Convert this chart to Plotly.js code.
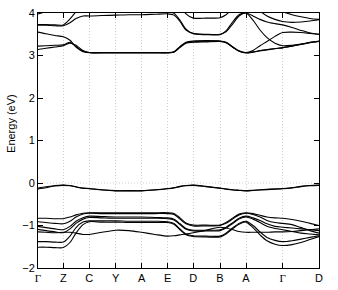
<!DOCTYPE html>
<html><head><meta charset="utf-8">
<script src="https://cdn.plot.ly/plotly-3.0.1.min.js"></script>
<style>html,body{margin:0;padding:0;background:#fff}#chart{width:338px;height:290px}</style>
</head><body><div id="chart"></div>
<script>
// k-path coordinate (high-symmetry points at kTicks)
const kPath = [0, 8, 17, 25.3, 32, 38, 45, 51.3, 64, 77.7, 91, 103.7, 117, 129.7, 136, 142, 148, 155.3, 168, 182, 188, 195, 201, 208, 215, 222, 229, 237, 244.7, 254, 263, 272, 281];
const kTicks = [0, 25.3, 51.3, 77.7, 103.7, 129.7, 155.3, 182, 208, 244.7, 281];
const kLabels = ['Γ', 'Z', 'C', 'Y', 'A', 'E', 'D', 'B', 'A', 'Γ', 'D'];
const yTicks = [-2, -1, 0, 1, 2, 3, 4];

// conduction bands (eV)
const cb1 = [3.14, 3.17, 3.20, 3.23, 3.29, 3.24, 3.12, 3.07, 3.06, 3.06, 3.06, 3.06, 3.06, 3.06, 3.08, 3.19, 3.29, 3.31, 3.32, 3.33, 3.30, 3.19, 3.10, 3.06, 3.08, 3.11, 3.13, 3.16, 3.18, 3.22, 3.26, 3.30, 3.33];
const cb2 = [3.22, 3.23, 3.24, 3.25, 3.31, 3.21, 3.10, 3.07, 3.07, 3.07, 3.07, 3.07, 3.07, 3.07, 3.09, 3.21, 3.31, 3.34, 3.35, 3.34, 3.31, 3.20, 3.11, 3.07, 3.12, 3.23, 3.33, 3.45, 3.54, 3.55, 3.54, 3.52, 3.50];
const cb3 = [3.55, 3.51, 3.47, 3.44, 3.36, 3.20, 3.09, 3.065, 3.065, 3.065, 3.065, 3.065, 3.065, 3.065, 3.085, 3.20, 3.30, 3.325, 3.335, 3.335, 3.305, 3.195, 3.105, 3.065, 3.085, 3.115, 3.14, 3.165, 3.185, 3.225, 3.265, 3.305, 3.335];
const cb4 = [3.71, 3.71, 3.70, 3.70, 3.77, 3.87, 3.93, 3.93, 3.94, 3.95, 3.96, 3.96, 3.97, 3.98, 3.95, 3.80, 3.60, 3.52, 3.50, 3.50, 3.56, 3.75, 3.93, 4.00, 3.83, 3.60, 3.42, 3.29, 3.23, 3.24, 3.27, 3.31, 3.34];
const cb5 = [3.73, 3.73, 3.72, 3.72, 3.86, 4.03, 4.20, 4.30, 4.30, 4.30, 4.30, 4.30, 4.20, 4.05, 3.99, 3.83, 3.62, 3.51, 3.49, 3.49, 3.58, 3.80, 3.96, 4.00, 3.93, 3.85, 3.79, 3.75, 3.72, 3.66, 3.59, 3.53, 3.50];
const cb6 = [3.98, 4.04, 4.20, 4.30, 4.40, 4.40, 4.40, 4.40, 4.40, 4.40, 4.40, 4.40, 4.40, 4.40, 4.35, 4.20, 3.98, 3.88, 3.88, 3.89, 3.96, 4.12, 4.30, 4.40, 4.25, 4.05, 3.93, 3.85, 3.80, 3.78, 3.79, 3.81, 3.84];
const cb7 = [4.50, 4.50, 4.50, 4.50, 4.50, 4.50, 4.50, 4.50, 4.50, 4.50, 4.50, 4.50, 4.50, 4.50, 4.50, 4.50, 4.50, 4.50, 4.50, 4.50, 4.50, 4.50, 4.50, 4.50, 4.45, 4.35, 4.22, 4.12, 4.03, 3.96, 3.91, 3.87, 3.85];

// valence bands (eV)
const vb1 = [-0.12, -0.09, -0.06, -0.05, -0.06, -0.09, -0.12, -0.13, -0.16, -0.18, -0.18, -0.18, -0.16, -0.13, -0.11, -0.08, -0.06, -0.05, -0.08, -0.12, -0.14, -0.16, -0.17, -0.18, -0.17, -0.16, -0.15, -0.14, -0.13, -0.11, -0.08, -0.06, -0.05];
const vb2 = [-0.14, -0.11, -0.07, -0.055, -0.065, -0.095, -0.125, -0.135, -0.165, -0.185, -0.185, -0.185, -0.165, -0.135, -0.115, -0.085, -0.065, -0.055, -0.085, -0.125, -0.145, -0.165, -0.175, -0.185, -0.175, -0.165, -0.155, -0.145, -0.135, -0.115, -0.085, -0.065, -0.055];
const vb3 = [-0.83, -0.83, -0.84, -0.84, -0.80, -0.75, -0.71, -0.70, -0.70, -0.70, -0.70, -0.70, -0.70, -0.70, -0.72, -0.82, -0.94, -0.99, -0.99, -0.99, -0.93, -0.82, -0.73, -0.70, -0.72, -0.76, -0.80, -0.82, -0.83, -0.86, -0.90, -0.95, -1.00];
const vb4 = [-0.91, -0.93, -0.95, -0.96, -0.90, -0.80, -0.73, -0.71, -0.72, -0.72, -0.72, -0.72, -0.72, -0.72, -0.74, -0.85, -0.96, -1.01, -1.01, -1.00, -0.95, -0.84, -0.75, -0.71, -0.74, -0.80, -0.88, -0.93, -0.95, -0.98, -1.05, -1.12, -1.18];
const vb5 = [-1.02, -1.05, -1.08, -1.10, -1.02, -0.90, -0.82, -0.78, -0.79, -0.80, -0.80, -0.80, -0.81, -0.82, -0.85, -0.96, -1.07, -1.11, -1.11, -1.10, -1.04, -0.93, -0.83, -0.78, -0.82, -0.88, -0.96, -1.02, -1.04, -1.06, -1.08, -1.10, -1.12];
const vb6 = [-1.09, -1.12, -1.15, -1.17, -1.08, -0.95, -0.85, -0.81, -0.82, -0.83, -0.83, -0.83, -0.83, -0.84, -0.87, -0.98, -1.09, -1.13, -1.13, -1.12, -1.06, -0.95, -0.85, -0.80, -0.85, -0.93, -1.02, -1.07, -1.10, -1.14, -1.18, -1.20, -1.22];
const vb7 = [-1.15, -1.16, -1.17, -1.16, -1.16, -1.18, -1.21, -1.21, -1.16, -1.11, -1.12, -1.16, -1.21, -1.25, -1.24, -1.22, -1.20, -1.17, -1.11, -1.04, -1.06, -1.10, -1.14, -1.16, -1.16, -1.16, -1.16, -1.15, -1.15, -1.14, -1.12, -1.10, -1.08];
const vb8 = [-1.38, -1.38, -1.39, -1.39, -1.25, -1.05, -0.92, -0.89, -0.89, -0.89, -0.90, -0.90, -0.90, -0.91, -0.95, -1.08, -1.20, -1.24, -1.25, -1.25, -1.18, -1.05, -0.95, -0.90, -1.00, -1.15, -1.28, -1.35, -1.38, -1.36, -1.32, -1.28, -1.24];
const vb9 = [-1.51, -1.51, -1.52, -1.52, -1.40, -1.18, -0.98, -0.91, -0.92, -0.92, -0.93, -0.93, -0.93, -0.93, -0.97, -1.10, -1.22, -1.26, -1.27, -1.27, -1.20, -1.07, -0.97, -0.92, -1.05, -1.22, -1.36, -1.44, -1.47, -1.45, -1.40, -1.33, -1.26];

const bands = [cb1, cb2, cb3, cb4, cb5, cb6, cb7, vb1, vb2, vb3, vb4, vb5, vb6, vb7, vb8, vb9];

const traces = bands.map(e => ({
  x: kPath, y: e, type: 'scatter', mode: 'lines',
  line: {color: '#000', width: 1.1, shape: 'spline', smoothing: 0.8},
  hoverinfo: 'skip', showlegend: false
}));

const tickText = kLabels.map(s => s === 'Γ' ? '<span style="font-family:Liberation Serif">Γ</span>' : s);

const layout = {
  width: 338, height: 290,
  margin: {l: 38, r: 19, t: 13, b: 22},
  paper_bgcolor: '#fff', plot_bgcolor: '#fff',
  font: {family: 'Liberation Sans, Arial, sans-serif', size: 11, color: '#000'},
  xaxis: {
    range: [0, 281], tickmode: 'array', tickvals: kTicks, ticktext: tickText,
    ticks: 'inside', ticklen: 5, tickcolor: '#000', tickwidth: 1,
    showline: true, linecolor: '#000', linewidth: 1, mirror: 'ticks',
    showgrid: true, gridcolor: '#cfcfcf', griddash: '1px,2px', gridwidth: 1,
    zeroline: false, tickfont: {size: 11}
  },
  yaxis: {
    range: [-2, 4], tickmode: 'array', tickvals: yTicks,
    ticks: 'inside', ticklen: 5, tickcolor: '#000', tickwidth: 1,
    showline: true, linecolor: '#000', linewidth: 1, mirror: 'ticks',
    showgrid: false, zeroline: false, tickfont: {size: 11}
  },
  shapes: [{type: 'line', xref: 'paper', yref: 'y', x0: 0, x1: 1, y0: 0, y1: 0,
    line: {color: '#cfcfcf', width: 1, dash: '1px,2px'}, layer: 'below'}],
  annotations: [{text: 'Energy (eV)', xref: 'paper', yref: 'paper', x: -0.096, y: 0.565,
    textangle: -90, showarrow: false, font: {size: 11}, xanchor: 'center', yanchor: 'middle'}]
};

Plotly.newPlot('chart', traces, layout, {staticPlot: true, displayModeBar: false});
</script></body></html>
